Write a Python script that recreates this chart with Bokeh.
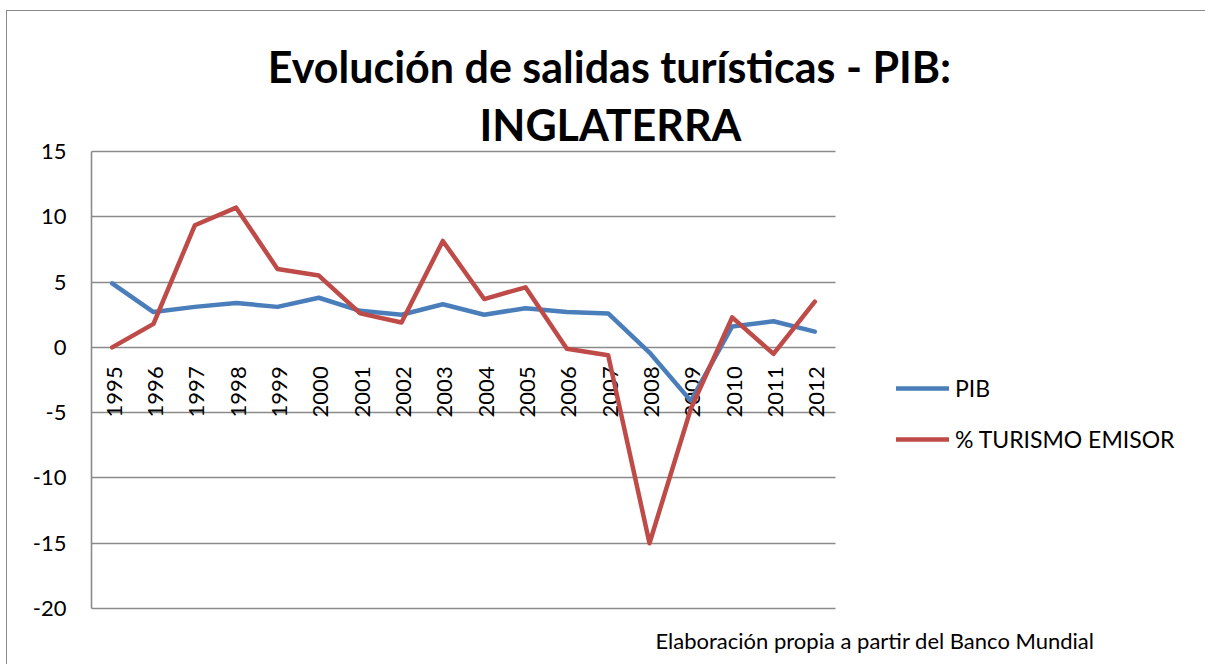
import math
from bokeh.plotting import figure
from bokeh.models import (Range1d, FixedTicker, Legend, LegendItem, Label, ColumnDataSource)
from bokeh.core.properties import value
from bokeh.embed import file_html
from bokeh.resources import INLINE

years = ["1995", "1996", "1997", "1998", "1999", "2000", "2001", "2002", "2003",
         "2004", "2005", "2006", "2007", "2008", "2009", "2010", "2011", "2012"]
pib = [4.9, 2.7, 3.1, 3.4, 3.1, 3.8, 2.8, 2.5, 3.3, 2.5, 3.0, 2.7, 2.6, -0.4, -4.1, 1.6, 2.0, 1.2]
turismo = [0.0, 1.8, 9.35, 10.7, 6.0, 5.5, 2.6, 1.9, 8.15, 3.7, 4.6, -0.1, -0.6, -15.0, -4.7, 2.3, -0.5, 3.5]
y_ticks = [-20, -15, -10, -5, 0, 5, 10, 15]

title_1 = "Evolución de salidas turísticas - PIB:"
title_2 = "INGLATERRA"
footer = "Elaboración propia a partir del  Banco  Mundial"
series_names = ["PIB", "% TURISMO EMISOR"]

FONT = "Lato"
BLUE = "#4a7ebb"
RED = "#be4b48"
GRID = "#8a8a8a"

# ---- layout geometry (pixels) ----
W, H = 1198, 653          # canvas size
LEFT = 84                 # frame left inside canvas
PLOT_TOP, PLOT_BOTTOM = 140, 597   # y of top / bottom gridline in canvas
PLOT_W = 744              # width of the category area
ymin, ymax = y_ticks[0], y_ticks[-1]
ppu = (PLOT_BOTTOM - PLOT_TOP) / (ymax - ymin)
y_lo = ymin - (H - PLOT_BOTTOM) / ppu
y_hi = ymax + PLOT_TOP / ppu
n = len(years)
ppc = PLOT_W / n
x_lo = -0.5
x_hi = x_lo + (W - LEFT) / ppc

idx = list(range(n))

p = figure(width=W, height=H, output_backend="svg", toolbar_location=None,
           x_range=Range1d(x_lo, x_hi), y_range=Range1d(y_lo, y_hi),
           title=None, min_border=0, min_border_left=LEFT)
p.styles = {"margin-left": "7px", "margin-top": "11px", "outline": "1.5px solid #8a8a8a"}
p.outline_line_color = None
p.background_fill_color = "white"
p.border_fill_color = "white"

p.xaxis.visible = False
p.xgrid.visible = False
p.ygrid.ticker = FixedTicker(ticks=y_ticks)
p.ygrid.cross_bounds = (x_lo, n - 0.5)
p.ygrid.grid_line_color = GRID
p.ygrid.grid_line_width = 1.6

ya = p.yaxis[0]
ya.ticker = FixedTicker(ticks=y_ticks)
ya.bounds = (ymin, ymax)
ya.major_label_overrides = {t: str(t) for t in y_ticks}
ya.axis_line_color = GRID
ya.axis_line_width = 1.6
ya.major_tick_line_color = None
ya.minor_tick_line_color = None
ya.major_tick_out = 0
ya.major_tick_in = 0
ya.major_label_standoff = 25
ya.major_label_text_font = FONT
ya.major_label_text_font_size = "22px"
ya.major_label_text_color = "black"

# category labels sitting under the zero line
src = ColumnDataSource(dict(x=idx, y=[0] * n, t=years))
p.text(x="x", y="y", text="t", source=src, angle=math.pi / 2,
       text_align="right", text_baseline="middle", y_offset=19, x_offset=2,
       text_font=value(FONT), text_font_size="22px", text_color="black")

r1 = p.line(idx, pib, line_color=BLUE, line_width=4.5, line_join="round", line_cap="round")
r2 = p.line(idx, turismo, line_color=RED, line_width=4.5, line_join="round", line_cap="round")

legend = Legend(items=[LegendItem(label=series_names[0], renderers=[r1]),
                       LegendItem(label=series_names[1], renderers=[r2])],
                location=(805, 211), orientation="vertical",
                glyph_width=53, glyph_height=20, label_height=20, spacing=23,
                label_standoff=6, padding=10, margin=0,
                border_line_color=None, background_fill_alpha=0,
                label_text_font=FONT, label_text_font_size="23px",
                label_text_color="black")
p.add_layout(legend)

p.add_layout(Label(x=518, y=598, x_units="screen", y_units="screen", text=title_1,
                   text_align="center", text_baseline="alphabetic",
                   text_font=FONT, text_font_style="bold", text_font_size="43px",
                   text_color="black"))
p.add_layout(Label(x=519, y=540, x_units="screen", y_units="screen", text=title_2,
                   text_align="center", text_baseline="alphabetic",
                   text_font=FONT, text_font_style="bold", text_font_size="43px",
                   text_color="black"))
p.add_layout(Label(x=564, y=24, x_units="screen", y_units="screen", text=footer,
                   text_align="left", text_baseline="alphabetic",
                   text_font=FONT, text_font_size="22px", text_color="black"))

open("out.html", "w").write(file_html(p, INLINE))
